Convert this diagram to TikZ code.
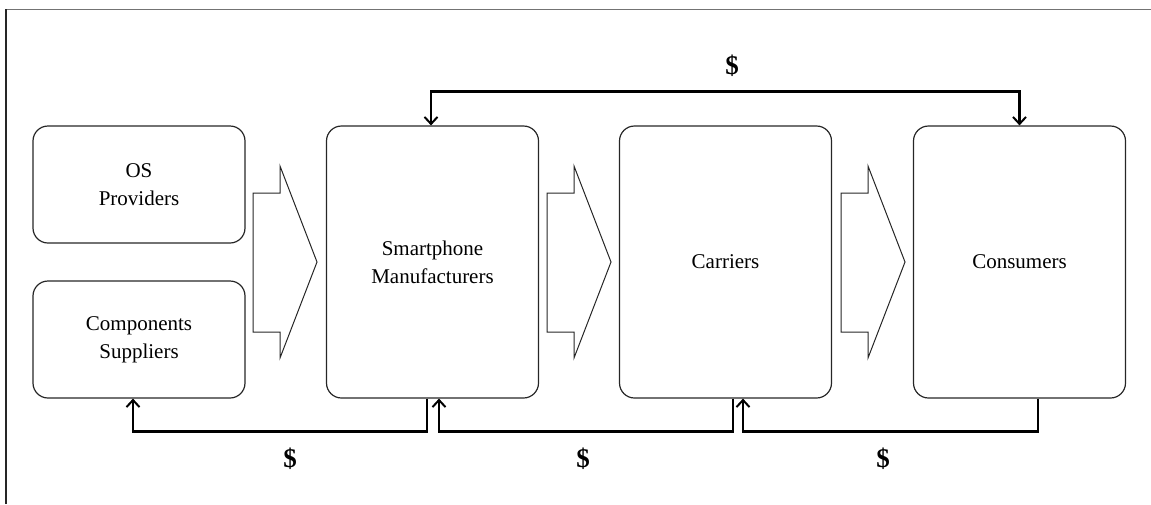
\documentclass[tikz,border=0pt]{standalone}
\usepackage{fontspec}
\setmainfont{Liberation Serif}
\usetikzlibrary{arrows.meta}
\begin{document}
\begin{tikzpicture}[x=1pt,y=-1pt,
  box/.style={draw=black!85, line width=1.2pt, rounded corners=15pt, minimum width=212pt,
    inner sep=0pt, align=center, font=\fontsize{21}{28}\selectfont},
  sidebox/.style={box, minimum height=117pt},
  tallbox/.style={box, minimum height=272pt},
  flow/.style={line width=2.4pt, -{Straight Barb[length=7pt,width=13pt,line width=2pt]}},
  bothflow/.style={line width=2.4pt, {Straight Barb[length=7pt,width=13pt,line width=2pt]}-{Straight Barb[length=7pt,width=13pt,line width=2pt]}},
  blockarrow/.style={draw=black!85, line width=1pt, line join=miter},
  money/.style={font=\fontsize{27}{30}\selectfont\bfseries, inner sep=0pt},
  topframe/.style={draw=black!55, line width=1pt},
  leftframe/.style={draw=black!85, line width=1.2pt}]
\useasboundingbox (0,0) rectangle (1151,504);
\draw[topframe] (6,9) -- (1151,9);
\draw[leftframe] (6,504) -- (6,9);

\node[sidebox] (os) at (139,184.5) {OS\\Providers};
\node[sidebox] (comp) at (139,339.5) {Components\\Suppliers};
\node[tallbox] (man) at (432.5,262) {Smartphone\\Manufacturers};
\node[tallbox] (car) at (725.5,262) {Carriers};
\node[tallbox] (cons) at (1019.5,262) {Consumers};

\foreach \dx in {0,294,588}{
  \draw[blockarrow] (253+\dx,193) -- (280+\dx,193) -- (280+\dx,166) -- (317+\dx,262)
    -- (280+\dx,358) -- (280+\dx,332) -- (253+\dx,332) -- cycle;
}

\draw[bothflow] ([xshift=-1.5pt]man.north) -- ++(0,-34) -| (cons.north);
\draw[flow] ([xshift=-5.5pt]man.south) -- ++(0,33) -| ([xshift=-6pt]comp.south);
\draw[flow] ([xshift=7.5pt]car.south) -- ++(0,33) -| ([xshift=6.5pt]man.south);
\draw[flow] ([xshift=18.5pt]cons.south) -- ++(0,33) -| ([xshift=17.5pt]car.south);

\node[money] (d0) at (732,66) {\$};
\node[money] (d1) at (290,459) {\$};
\node[money] (d2) at (583,459) {\$};
\node[money] (d3) at (883,459) {\$};
\end{tikzpicture}
\end{document}
